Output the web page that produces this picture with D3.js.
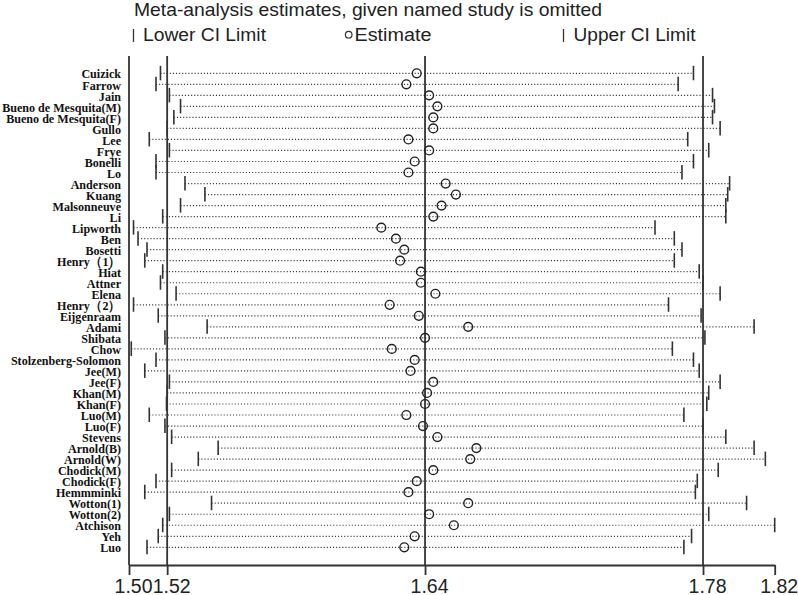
<!DOCTYPE html>
<html>
<head>
<meta charset="utf-8">
<script src="https://cdn.jsdelivr.net/npm/d3@7"></script>
<style>
  body { margin: 0; background: #fff; }
  svg { display: block; }
</style>
</head>
<body>
<svg></svg>
<script>
let studies = ["Cuizick", "Farrow", "Jain", "Bueno de Mesquita(M)", "Bueno de Mesquita(F)", "Gullo", "Lee", "Frye",
  "Bonelli", "Lo", "Anderson", "Kuang", "Malsonneuve", "Li", "Lipworth", "Ben", "Bosetti", "Henry（1）", "Hiat",
  "Attner", "Elena", "Henry（2）", "Eijgenraam", "Adami", "Shibata", "Chow", "Stolzenberg-Solomon", "Jee(M)",
  "Jee(F)", "Khan(M)", "Khan(F)", "Luo(M)", "Luo(F)", "Stevens", "Arnold(B)", "Arnold(W)", "Chodick(M)",
  "Chodick(F)", "Hemmminki", "Wotton(1)", "Wotton(2)", "Atchison", "Yeh", "Luo"]

let estimates = [1.636, 1.631, 1.642, 1.646, 1.644, 1.644, 1.632, 1.642, 1.635, 1.632, 1.650, 1.655, 1.648, 1.644,
  1.619, 1.626, 1.630, 1.628, 1.638, 1.638, 1.645, 1.623, 1.637, 1.661, 1.640, 1.624, 1.635, 1.633, 1.644, 1.641,
  1.640, 1.631, 1.639, 1.646, 1.665, 1.662, 1.644, 1.636, 1.632, 1.661, 1.642, 1.654, 1.635, 1.630]

let lowerCI = [1.517, 1.515, 1.521, 1.526, 1.523, 1.520, 1.512, 1.521, 1.515, 1.515, 1.528, 1.537, 1.526, 1.518,
  1.505, 1.507, 1.511, 1.510, 1.518, 1.517, 1.524, 1.505, 1.516, 1.538, 1.519, 1.504, 1.515, 1.510, 1.521, 1.520,
  1.5197, 1.512, 1.519, 1.522, 1.543, 1.534, 1.522, 1.515, 1.510, 1.540, 1.521, 1.518, 1.516, 1.511]

let upperCI = [1.775, 1.767, 1.785, 1.786, 1.785, 1.789, 1.772, 1.783, 1.775, 1.769, 1.794, 1.793, 1.792, 1.792,
  1.755, 1.765, 1.769, 1.765, 1.778, 1.780, 1.789, 1.762, 1.779, 1.807, 1.781, 1.764, 1.775, 1.778, 1.789, 1.783,
  1.782, 1.770, 1.780, 1.792, 1.807, 1.813, 1.788, 1.777, 1.776, 1.803, 1.783, 1.818, 1.774, 1.770]

// axis: min, overall lower CI, overall estimate, overall upper CI, max
let axisMin = 1.503
let axisMax = 1.818
let overall = [1.52, 1.64, 1.78]
let tickValues = [axisMin, 1.52, 1.64, 1.78, axisMax]

let title = "Meta-analysis estimates, given named study is omitted"
let legendLabels = ["Lower CI Limit", "Estimate", "Upper CI Limit"]

let width = 798
let height = 595
let plotTop = 56
let plotBottom = 565
let plotLeft = 129
let plotRight = 774.7
let ink = '#333'
let labelSquash = 0.93

let rows = studies.map((s, i) => ({ name: s, est: estimates[i], lo: lowerCI[i], hi: upperCI[i] }))

let svg = d3.select('svg').attr('width', width).attr('height', height)

let xScale = d3.scaleLog()
  .domain([axisMin, axisMax])
  .range([plotLeft, plotRight])

let yScale = d3.scalePoint()
  .domain(studies)
  .range([73.3, 547.3])

// header
svg.append('text')
  .attr('x', 134)
  .attr('y', 16)
  .attr('textLength', 468)
  .attr('lengthAdjust', 'spacingAndGlyphs')
  .style('font-family', 'Liberation Sans, Arial, sans-serif')
  .style('font-size', '18.5px')
  .style('fill', '#222')
  .text(title)

let legend = svg.append('g')
  .style('font-family', 'Liberation Sans, Arial, sans-serif')
  .style('font-size', '17.5px')
  .style('fill', '#222')

legend.append('line').attr('x1', 133.5).attr('x2', 133.5).attr('y1', 29).attr('y2', 42)
  .attr('stroke', ink).attr('stroke-width', 1.3)
legend.append('text').attr('x', 143).attr('y', 41).attr('textLength', 123)
  .attr('lengthAdjust', 'spacingAndGlyphs').text(legendLabels[0])
legend.append('circle').attr('cx', 348.7).attr('cy', 34.7).attr('r', 3.3)
  .attr('fill', 'none').attr('stroke', ink).attr('stroke-width', 1.2)
legend.append('text').attr('x', 354.5).attr('y', 41).attr('textLength', 77)
  .attr('lengthAdjust', 'spacingAndGlyphs').text(legendLabels[1])
legend.append('line').attr('x1', 563.5).attr('x2', 563.5).attr('y1', 29).attr('y2', 42)
  .attr('stroke', ink).attr('stroke-width', 1.3)
legend.append('text').attr('x', 573.5).attr('y', 41).attr('textLength', 122)
  .attr('lengthAdjust', 'spacingAndGlyphs').text(legendLabels[2])

// reference lines for the overall estimate and its CI, plus the left frame
svg.selectAll('line.ref')
  .data(overall)
  .enter()
  .append('line')
  .attr('class', 'ref')
  .attr('x1', (d) => xScale(d))
  .attr('x2', (d) => xScale(d))
  .attr('y1', plotTop)
  .attr('y2', plotBottom)
  .attr('stroke', ink)
  .attr('stroke-width', 1.8)

svg.append('line')
  .attr('x1', plotLeft).attr('x2', plotLeft)
  .attr('y1', plotTop).attr('y2', plotBottom)
  .attr('stroke', ink)
  .attr('stroke-width', 1.8)

// dotted CI spans
svg.selectAll('line.span')
  .data(rows)
  .enter()
  .append('line')
  .attr('class', 'span')
  .attr('x1', (d) => xScale(d.lo))
  .attr('x2', (d) => xScale(d.hi))
  .attr('y1', (d) => yScale(d.name))
  .attr('y2', (d) => yScale(d.name))
  .attr('stroke', '#3a3a3a')
  .attr('stroke-width', 1.2)
  .attr('stroke-dasharray', '1.1,2')

// CI limit markers
let drawLimit = (key) => {
  svg.selectAll('line.lim-' + key)
    .data(rows)
    .enter()
    .append('line')
    .attr('class', 'lim-' + key)
    .attr('x1', (d) => xScale(d[key]))
    .attr('x2', (d) => xScale(d[key]))
    .attr('y1', (d) => yScale(d.name) - 7.5)
    .attr('y2', (d) => yScale(d.name) + 7)
    .attr('stroke', ink)
    .attr('stroke-width', 1.6)
}
drawLimit('lo')
drawLimit('hi')

// estimates
svg.selectAll('circle.est')
  .data(rows)
  .enter()
  .append('circle')
  .attr('class', 'est')
  .attr('cx', (d) => xScale(d.est))
  .attr('cy', (d) => yScale(d.name))
  .attr('r', 4.4)
  .attr('fill', 'none')
  .attr('stroke', '#222')
  .attr('stroke-width', 1.4)

// axes
let xAxis = d3.axisBottom(xScale)
  .tickValues(tickValues)
  .tickFormat(d3.format('.2f'))
  .tickSize(10)
  .tickSizeOuter(0)
  .tickPadding(6)

let gx = svg.append('g')
  .attr('transform', 'translate(0,' + plotBottom + ')')
  .call(xAxis)
gx.select('.domain').attr('stroke', ink).attr('stroke-width', 1.8)
gx.selectAll('.tick line').attr('stroke', ink).attr('stroke-width', 1.8)
gx.selectAll('.tick text')
  .attr('dx', 4)
  .attr('y', 14.5)
  .attr('dy', '0.71em')
  .style('font-family', 'Liberation Sans, Arial, sans-serif')
  .style('font-size', '19.5px')
  .style('fill', '#222')

let yAxis = d3.axisLeft(yScale)
  .tickSize(0)
  .tickPadding(8)

let gy = svg.append('g')
  .attr('transform', 'translate(' + plotLeft + ',0)')
  .call(yAxis)
gy.select('.domain').remove()
gy.selectAll('.tick text')
  .attr('x', -8 / labelSquash)
  .attr('dy', '0.36em')
  .attr('transform', 'scale(' + labelSquash + ',1)')
  .style('font-family', 'Liberation Serif, Times New Roman, serif')
  .style('font-weight', 'bold')
  .style('font-size', '13px')
  .style('fill', '#111')
</script>
</body>
</html>
